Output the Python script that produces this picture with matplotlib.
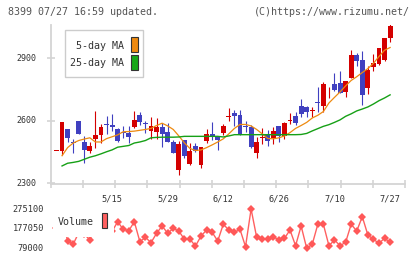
import matplotlib
matplotlib.use("Agg")
import matplotlib.pyplot as plt
from matplotlib.patches import Rectangle
import numpy as np

# ---------------- data ----------------
opens = [2456, 2456, 2561, 2500, 2600, 2501, 2458, 2515, 2534, 2586,
         2581, 2562, 2548, 2544, 2573, 2629, 2588, 2553, 2549, 2570,
         2546, 2498, 2365, 2509, 2394, 2480, 2389, 2506, 2538, 2522,
         2541, 2618, 2637, 2629, 2575, 2573, 2448, 2518, 2538, 2520,
         2576, 2528, 2598, 2624, 2672, 2666, 2646, 2692, 2673, 2746,
         2777, 2783, 2740, 2807, 2916, 2892, 2760, 2860, 2873, 2892, 2996]
highs = [2456, 2597, 2561, 2514, 2600, 2528, 2501, 2648, 2586, 2624,
         2634, 2567, 2576, 2576, 2648, 2641, 2601, 2618, 2614, 2589,
         2591, 2509, 2506, 2509, 2493, 2493, 2474, 2562, 2594, 2522,
         2584, 2661, 2653, 2653, 2601, 2581, 2522, 2565, 2557, 2570,
         2576, 2595, 2637, 2645, 2705, 2672, 2669, 2764, 2788, 2764,
         2831, 2840, 2792, 2940, 2924, 2935, 2865, 2919, 2950, 2999, 3063]
lows = [2456, 2437, 2501, 2447, 2536, 2399, 2447, 2471, 2495, 2538,
        2553, 2501, 2520, 2496, 2565, 2581, 2541, 2512, 2512, 2474,
        2499, 2445, 2341, 2421, 2389, 2451, 2373, 2493, 2509, 2461,
        2533, 2601, 2577, 2533, 2549, 2469, 2424, 2490, 2482, 2490,
        2501, 2512, 2584, 2581, 2621, 2621, 2621, 2645, 2642, 2712,
        2744, 2733, 2716, 2805, 2865, 2677, 2729, 2839, 2868, 2887, 2980]
closes = [2456, 2597, 2517, 2496, 2536, 2461, 2480, 2533, 2573, 2582,
          2573, 2506, 2544, 2525, 2605, 2597, 2584, 2576, 2570, 2536,
          2501, 2448, 2490, 2434, 2456, 2456, 2474, 2538, 2522, 2509,
          2576, 2622, 2625, 2536, 2571, 2474, 2501, 2522, 2506, 2552,
          2530, 2592, 2602, 2592, 2632, 2645, 2650, 2688, 2777, 2750,
          2748, 2736, 2792, 2916, 2889, 2725, 2845, 2876, 2950, 2999, 3055]

# moving averages (first candle has none)
ma5 = [np.nan, 2433, 2472, 2494, 2506, 2513, 2519, 2499, 2499, 2515,
       2524, 2533, 2548, 2549, 2551, 2555, 2559, 2564, 2578, 2589,
       2576, 2559, 2528, 2495, 2468, 2458, 2461, 2472, 2485, 2499,
       2514, 2538, 2564, 2583, 2583, 2576, 2559, 2538, 2516, 2514,
       2519, 2528, 2544, 2564, 2578, 2593, 2614, 2627, 2645, 2686,
       2713, 2739, 2768, 2794, 2812, 2832, 2851, 2876, 2909, 2939, 2952]
ma25 = [np.nan, 2384, 2397, 2401, 2406, 2416, 2426, 2433, 2442, 2452,
        2461, 2474, 2478, 2482, 2494, 2499, 2506, 2519, 2521, 2522,
        2522, 2522, 2523, 2526, 2526, 2526, 2526, 2526, 2526, 2526,
        2523, 2528, 2534, 2534, 2534, 2534, 2534, 2534, 2534, 2534,
        2534, 2534, 2534, 2534, 2535, 2540, 2552, 2563, 2574, 2582,
        2593, 2605, 2622, 2634, 2648, 2657, 2667, 2681, 2697, 2710, 2725]

volumes = [180000, 230000, 116900, 99000, 157000, 150000, 120400, 200000, 170000, 155000,
           163000, 211700, 173800, 166800, 211700, 111900, 133900, 106900, 153900, 190300,
           153900, 178800, 165300, 123900, 123900, 90500, 140400, 170300, 158800, 115400,
           198800, 170300, 158800, 173800, 87000, 275100, 133900, 123900, 125400, 136900,
           120400, 128900, 170300, 92000, 190300, 79000, 99000, 198800, 198800, 92000,
           120400, 92000, 108900, 198800, 165300, 236700, 145400, 123900, 104000, 128900, 108900]

date_labels = ["5/15", "5/29", "6/12", "6/26", "7/10", "7/27"]
date_label_idx = [10, 20, 30, 40, 50, 60]
price_ticks = [2300, 2600, 2900]
vol_ticks = [79000, 177050, 275100]

# ---------------- layout helpers ----------------
W, H = 420, 259
fig = plt.figure(figsize=(W / 100, H / 100), dpi=100)
fig.patch.set_facecolor("white")

def fx(x):
    return x / W

def fy(y):
    return 1 - y / H

MONO = "DejaVu Sans Mono"
RED = "#d40000"
BLUE = "#4040c0"
ORANGE = "#ee8a10"
GREEN = "#16a016"
GRID = "#d4d4d4"
TXT = "#333333"

# ---------------- main price axes ----------------
L, R = 50.7, 405
T, B = 25, 184.3
ax = fig.add_axes([fx(L), fy(B), fx(R) - fx(L), fy(T) - fy(B)])
n = len(closes)
idx = np.arange(n)
ax.set_xlim(-1.04, 62.68)
ax.set_ylim(2296, 3060)

o = np.array(opens, float)
c = np.array(closes, float)
h = np.array(highs, float)
l = np.array(lows, float)
up = c >= o
cols = np.where(up, RED, BLUE)

ax.vlines(idx, l, h, colors=cols, linewidth=0.8, zorder=2)
bottoms = np.minimum(o, c)
heights = np.maximum(np.abs(c - o), 4.5)
ax.bar(idx, heights, bottom=bottoms, width=0.88, color=cols, linewidth=0, zorder=3)

ax.plot(idx, ma5, color=ORANGE, linewidth=0.9, zorder=4)
ax.plot(idx, ma25, color=GREEN, linewidth=1.0, zorder=4)

for s in ["top", "right"]:
    ax.spines[s].set_visible(False)
for s in ["left", "bottom"]:
    ax.spines[s].set_color(GRID)
    ax.spines[s].set_linewidth(1.3)

x0, x1 = ax.get_xlim()
ax.set_xticks(np.linspace(x0, x1, 12))
ax.set_xticklabels([])
ax.set_yticks(price_ticks)
ax.set_yticklabels([])
ax.tick_params(axis="both", direction="inout", length=6, width=1.2, color=GRID)

for lab, i in zip(date_labels, date_label_idx):
    ax.text(i, -0.09, lab, transform=ax.get_xaxis_transform(), ha="center", va="center",
            fontsize=6.2, family=MONO, color=TXT)
for p in price_ticks:
    ax.text(-0.04, p, str(p), transform=ax.get_yaxis_transform(), ha="right", va="center",
            fontsize=6.0, family=MONO, color=TXT)

# legend box (main)
fig.patches.append(Rectangle((fx(65), fy(77)), fx(143) - fx(65), fy(30) - fy(77),
                             transform=fig.transFigure, facecolor="white",
                             edgecolor="#cccccc", linewidth=1.0, zorder=5))
fig.text(fx(124), fy(45.7), "5-day MA", ha="right", va="center", fontsize=7.2,
         family=MONO, color=TXT, zorder=6)
fig.text(fx(124), fy(62.7), "25-day MA", ha="right", va="center", fontsize=7.2,
         family=MONO, color=TXT, zorder=6)
fig.patches.append(Rectangle((fx(131), fy(52)), fx(138) - fx(131), fy(37) - fy(52),
                             transform=fig.transFigure, facecolor=ORANGE,
                             edgecolor="#333333", linewidth=0.8, zorder=6))
fig.patches.append(Rectangle((fx(131), fy(69.5)), fx(138) - fx(131), fy(54.5) - fy(69.5),
                             transform=fig.transFigure, facecolor="#18a818",
                             edgecolor="#333333", linewidth=0.8, zorder=6))

# ---------------- volume axes ----------------
VT, VB = 209, 248.3
axv = fig.add_axes([fx(L), fy(VB), fx(R) - fx(L), fy(VT) - fy(VB)])
axv.set_xlim(-1.04, 62.68)
axv.set_ylim(79000, 275100)
axv.plot(idx, volumes, color="#ff6060", linewidth=1.0, marker="D", markersize=3.8,
         markerfacecolor="#ff5858", markeredgewidth=0, clip_on=False, zorder=2)
axv.axis("off")
for v in vol_ticks:
    fig.text(fx(44), fy(VB - (v - 79000) / (275100 - 79000) * (VB - VT)), str(v),
             ha="right", va="center", fontsize=6.2, family=MONO, color=TXT)

# volume legend (white box that hides points behind it)
fig.patches.append(Rectangle((fx(53), fy(237)), fx(114) - fx(53), fy(206) - fy(237),
                             transform=fig.transFigure, facecolor="white",
                             edgecolor="none", zorder=5))
fig.text(fx(58), fy(221.7), "Volume", ha="left", va="center", fontsize=7.2,
         family=MONO, color=TXT, zorder=6)
fig.patches.append(Rectangle((fx(101.5), fy(228)), fx(107.5) - fx(101.5), fy(213) - fy(228),
                             transform=fig.transFigure, facecolor="#ff6060",
                             edgecolor="#333333", linewidth=0.8, zorder=6))

# ---------------- header texts ----------------
fig.text(fx(8), fy(12), "8399 07/27 16:59 updated.", ha="left", va="center",
         fontsize=7.2, family=MONO, color="#555555")
fig.text(fx(410), fy(12), "(C)https://www.rizumu.net/", ha="right", va="center",
         fontsize=7.2, family=MONO, color="#555555")

fig.savefig("out.png", dpi=100, facecolor="white")
